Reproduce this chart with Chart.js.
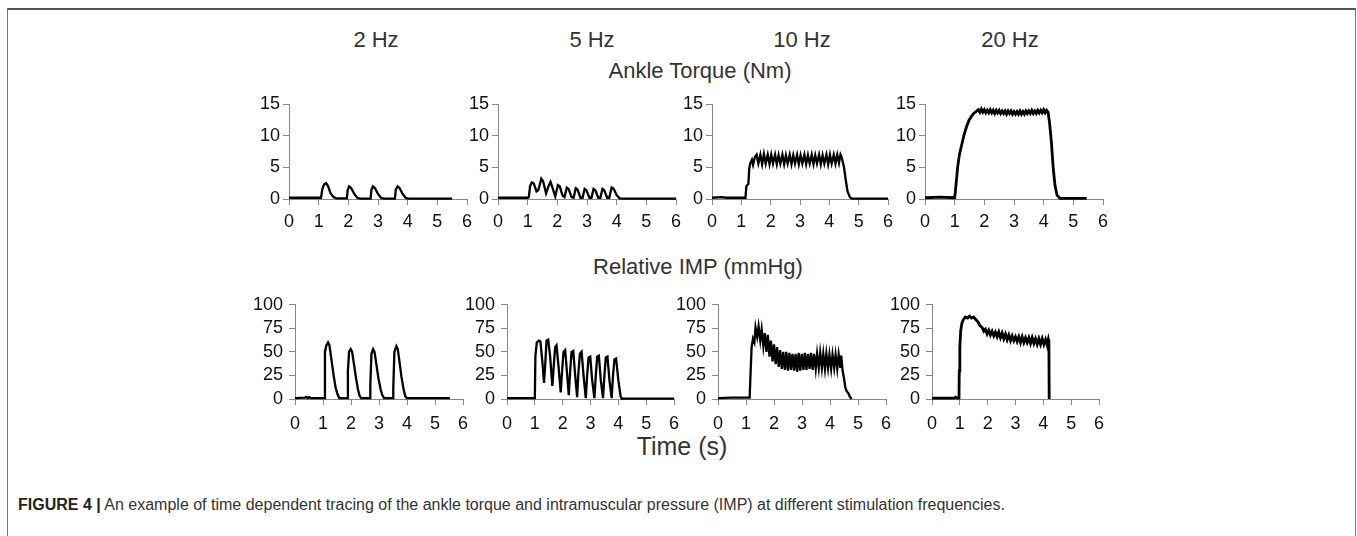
<!DOCTYPE html>
<html>
<head>
<meta charset="utf-8">
<script src="https://cdn.jsdelivr.net/npm/chart.js@4.4.1/dist/chart.umd.min.js"></script>
<style>
  html, body { margin: 0; padding: 0; background: #fff; }
  body { width: 1357px; height: 536px; position: relative; overflow: hidden; font-family: "Liberation Sans", Arial, sans-serif; }
  .frame { position: absolute; left: 7px; top: 8px; width: 1347px; height: 600px; border-top: 2px solid #555; border-left: 1px solid #777; border-right: 1px solid #777; }
  .lbl { position: absolute; color: #333; white-space: nowrap; transform: translateX(-50%); }
  canvas { position: absolute; }
  .caption { position: absolute; left: 18px; top: 496px; font-size: 16px; color: #333; white-space: nowrap; }
  .caption b { color: #222; }
</style>
</head>
<body>
<div class="frame"></div>

<div class="lbl" style="left:376px; top:27px; font-size:22px;">2 Hz</div>
<div class="lbl" style="left:592px; top:27px; font-size:22px;">5 Hz</div>
<div class="lbl" style="left:802px; top:27px; font-size:22px;">10 Hz</div>
<div class="lbl" style="left:1010px; top:27px; font-size:22px;">20 Hz</div>
<div class="lbl" style="left:700px; top:58px; font-size:22px;">Ankle Torque (Nm)</div>
<div class="lbl" style="left:698px; top:254px; font-size:22px;">Relative IMP (mmHg)</div>
<div class="lbl" style="left:682px; top:432px; font-size:25px;">Time (s)</div>

<canvas id="t2"></canvas><canvas id="t5"></canvas><canvas id="t10"></canvas><canvas id="t20"></canvas>
<canvas id="i2"></canvas><canvas id="i5"></canvas><canvas id="i10"></canvas><canvas id="i20"></canvas>

<div class="caption"><b>FIGURE 4 |</b> An example of time dependent tracing of the ankle torque and intramuscular pressure (IMP) at different stimulation frequencies.</div>

<script>
// ---- data: [time (s), value] ----
const timeTicks = [0, 1, 2, 3, 4, 5, 6];
const torqueTicks = [0, 5, 10, 15];
const impTicks = [0, 25, 50, 75, 100];

const torque2Hz = [[0,0.2],[1.08,0.2],[1.12,1.5],[1.18,2.3],[1.25,2.5],[1.32,2.0],[1.4,0.9],[1.5,0.3],[1.6,0.1],[1.95,0.1],[1.98,1.5],[2.03,2.0],[2.1,1.7],[2.2,0.8],[2.3,0.2],[2.4,0.05],[2.75,0.05],[2.78,1.5],[2.83,2.0],[2.9,1.7],[3.0,0.8],[3.1,0.2],[3.2,0.05],[3.57,0.05],[3.6,1.5],[3.66,2.0],[3.73,1.7],[3.83,0.8],[3.93,0.2],[4.02,0.05],[5.5,0.05]];

const torque5Hz = [[0,0.2],[1.0,0.2],[1.04,0.3],[1.08,2.0],[1.14,2.6],[1.2,2.5],[1.3,1.2],[1.36,1.4],[1.46,3.2],[1.52,2.8],[1.62,0.9],[1.7,2.0],[1.77,2.7],[1.85,1.6],[1.93,0.4],[2.02,2.2],[2.08,2.0],[2.18,0.5],[2.24,0.3],[2.32,1.8],[2.38,1.6],[2.48,0.3],[2.55,0.2],[2.62,1.7],[2.68,1.5],[2.78,0.2],[2.85,0.2],[2.92,1.6],[2.98,1.4],[3.08,0.2],[3.15,0.2],[3.22,1.6],[3.28,1.4],[3.38,0.2],[3.45,0.2],[3.52,1.6],[3.58,1.4],[3.68,0.2],[3.75,0.2],[3.83,1.8],[3.9,1.6],[4.0,0.6],[4.1,0.1],[4.2,0.05],[6.0,0.05]];

const torque10Hz = [[0,0.2],[0.3,0.3],[0.5,0.2],[1.14,0.2],[1.17,2.0],[1.24,2.4],[1.27,4.8],[1.3,5.6],[1.36,6.2],[1.4,5.4],[1.46,6.6],
  [1.52,7.0],[1.58,5.6],[1.65,7.0],[1.71,5.5],[1.77,7.1],[1.83,5.6],[1.9,7.0],[1.96,5.5],[2.02,7.0],[2.08,5.6],[2.15,7.0],[2.21,5.5],
  [2.27,6.9],[2.33,5.6],[2.4,7.0],[2.46,5.5],[2.52,6.9],[2.58,5.6],[2.65,7.0],[2.71,5.5],[2.77,6.9],[2.83,5.6],[2.9,7.0],[2.96,5.5],
  [3.02,6.9],[3.08,5.6],[3.15,7.0],[3.21,5.5],[3.27,6.9],[3.33,5.6],[3.4,7.0],[3.46,5.5],[3.52,6.9],[3.58,5.6],[3.65,7.0],[3.71,5.5],
  [3.77,6.9],[3.83,5.6],[3.9,7.0],[3.96,5.5],[4.02,7.0],[4.08,5.6],[4.15,7.0],[4.21,5.6],[4.27,7.0],[4.33,5.7],[4.38,7.0],
  [4.42,6.6],[4.5,5.0],[4.56,3.0],[4.62,1.2],[4.7,0.3],[4.76,0.05],[6.0,0.05]];

const torque20Hz = [[0,0.2],[0.5,0.3],[1.0,0.2],[1.02,1.0],[1.06,3.0],[1.1,5.0],[1.16,7.0],[1.24,8.6],[1.32,10.2],[1.4,11.4],[1.48,12.4],[1.56,13.0],[1.64,13.5],[1.72,13.8],[1.8,14.1],[1.85,13.7],[1.9,14.2],
  [1.95,13.7],[2.0,14.1],[2.05,13.6],[2.1,14.0],[2.15,13.6],[2.2,14.1],[2.25,13.6],[2.3,14.0],[2.35,13.5],[2.4,14.0],[2.45,13.6],[2.5,14.0],
  [2.55,13.5],[2.6,13.9],[2.65,13.5],[2.7,13.9],[2.75,13.4],[2.8,13.9],[2.85,13.5],[2.9,13.9],[2.95,13.4],[3.0,13.8],[3.05,13.4],[3.1,13.8],
  [3.15,13.4],[3.2,13.9],[3.25,13.4],[3.3,13.8],[3.35,13.4],[3.4,13.9],[3.45,13.5],[3.5,13.9],[3.55,13.5],[3.6,14.0],[3.65,13.5],[3.7,13.9],
  [3.75,13.5],[3.8,14.0],[3.85,13.6],[3.9,14.0],[3.95,13.6],[4.0,14.1],[4.05,13.6],[4.1,14.0],[4.15,13.7],
  [4.2,12.0],[4.26,9.0],[4.32,5.0],[4.38,2.2],[4.45,0.6],[4.55,0.1],[5.45,0.1]];

const imp2Hz = [[0,1],[0.35,1.5],[0.4,2],[0.45,1],[0.5,2],[0.55,1],[1.05,1],[1.07,50],[1.12,57],[1.18,60],[1.23,57],[1.3,42],[1.38,25],[1.45,12],[1.52,5],[1.58,1],[1.88,1],[1.89,30],[1.93,50],[1.99,53],[2.04,50],[2.1,38],[2.18,22],[2.25,10],[2.3,4],[2.36,1],[2.68,1],[2.69,15],[2.73,48],[2.79,53],[2.84,50],[2.9,38],[2.98,22],[3.06,10],[3.12,4],[3.18,1],[3.5,1],[3.51,12],[3.55,50],[3.62,56],[3.67,53],[3.73,40],[3.8,24],[3.88,10],[3.94,3],[3.99,1],[5.53,1]];

const imp5Hz = [[0,1],[1.0,1],[1.02,45],[1.07,60],[1.14,62],[1.2,61],[1.27,40],[1.33,17],[1.38,40],[1.42,62],[1.48,63],[1.55,45],[1.63,14],[1.68,35],[1.73,55],[1.78,57],[1.85,35],[1.93,7],[1.98,30],[2.03,50],[2.09,52],[2.15,30],[2.22,4],[2.27,30],[2.32,50],[2.38,51],[2.45,25],[2.52,2],[2.57,30],[2.62,48],[2.68,50],[2.75,25],[2.83,1],[2.88,25],[2.93,44],[2.99,45],[3.06,20],[3.14,1],[3.19,25],[3.24,45],[3.3,46],[3.37,20],[3.45,1],[3.5,25],[3.55,44],[3.61,45],[3.68,20],[3.76,1],[3.81,25],[3.86,42],[3.92,43],[4.0,20],[4.08,3],[4.12,0.5],[6.0,0.5]];

const imp10Hz = [[0,1],[0.5,1.5],[1.13,1.5],[1.16,25],[1.2,55],[1.25,64],[1.3,60],[1.34,76],[1.4,66],[1.45,77],[1.51,62],[1.56,74],[1.62,56],[1.67,70],[1.73,50],[1.78,68],[1.84,45],[1.89,62],[1.95,40],[2.0,58],[2.06,37],[2.11,55],[2.17,34],[2.22,52],[2.28,32],[2.33,50],[2.39,31],[2.44,50],[2.5,30],[2.55,49],[2.61,31],[2.66,48],[2.72,30],[2.77,48],[2.83,29],[2.88,49],[2.94,30],[2.99,48],[3.05,31],[3.1,49],[3.16,31],[3.21,48],[3.27,32],[3.32,49],[3.38,31],[3.43,48],[3.49,32],[3.54,48],[3.6,33],[3.65,49],[3.71,33],[3.76,48],[3.82,32],[3.87,48],[3.93,33],[3.98,47],[4.04,32],[4.09,47],[4.15,33],[4.2,47],[4.26,32],[4.31,47],[4.37,33],[4.4,46],[4.45,30],[4.5,22],[4.55,12],[4.6,8],[4.66,6],[4.7,3],[4.77,0]];

const imp20Hz = [[0,1],[0.8,1],[0.85,2],[0.9,1],[0.97,1],[0.98,30],[1.0,55],[1.03,72],[1.07,80],[1.12,84],[1.2,87],[1.28,86],[1.35,88],[1.42,86],[1.5,87],[1.58,84],[1.65,82],[1.72,78],[1.8,76],[1.86,72],[1.92,74],[1.98,69],[2.04,73],[2.1,68],[2.16,72],[2.22,67],[2.28,71],[2.34,66],[2.4,71],[2.46,65],[2.52,70],[2.58,64],[2.64,69],[2.7,63],[2.76,68],[2.82,62],[2.88,67],[2.94,62],[3.0,66],[3.06,61],[3.12,66],[3.18,60],[3.24,66],[3.3,60],[3.36,65],[3.42,60],[3.48,65],[3.54,59],[3.6,65],[3.66,59],[3.72,64],[3.78,58],[3.84,64],[3.9,58],[3.96,64],[4.02,58],[4.08,63],[4.14,57],[4.18,63],[4.2,60],[4.21,0]];

// ---- panel placement: plot area in page pixels ----
const TOP_ROW = { top: 104, bottom: 199 };
const BOT_ROW = { top: 302, bottom: 399 };
const Y_W = 60, X_H = 36, PAD_T = 14, PAD_R = 14;

function makePanel(id, series, row, left, right, yTicks, xPad, yPad, lw) {
    const cv = document.getElementById(id);
    const w = Y_W + (right - left) + PAD_R;
    const h = PAD_T + (row.bottom - row.top) + X_H;
    cv.width = w; cv.height = h;
    cv.style.left = (left - Y_W) + 'px';
    cv.style.top = (row.top - PAD_T) + 'px';

    const tickFont = { family: "'Liberation Sans', Arial, sans-serif", size: 18 };
    new Chart(cv, {
        type: 'line',
        data: {
            datasets: [{
                data: series.map(p => ({ x: p[0], y: p[1] })),
                borderColor: '#000', borderWidth: lw,
                pointRadius: 0, tension: 0, fill: false, clip: false
            }]
        },
        options: {
            responsive: false, animation: false, devicePixelRatio: 1, events: [],
            layout: { padding: { top: PAD_T, right: PAD_R, left: 0, bottom: 0 } },
            plugins: { legend: { display: false }, tooltip: { enabled: false } },
            scales: {
                x: {
                    type: 'linear', min: 0, max: 6,
                    afterFit: s => { s.height = X_H; },
                    afterBuildTicks: s => { s.ticks = timeTicks.map(v => ({ value: v })); },
                    grid: { drawOnChartArea: false, drawTicks: true, tickLength: 6, color: '#888' },
                    border: { color: '#888', width: 1 },
                    ticks: { font: tickFont, color: '#111', padding: xPad, maxRotation: 0, autoSkip: false }
                },
                y: {
                    min: 0, max: yTicks[yTicks.length - 1],
                    afterFit: s => { s.width = Y_W; },
                    afterBuildTicks: s => { s.ticks = yTicks.map(v => ({ value: v })); },
                    grid: { drawOnChartArea: false, drawTicks: true, tickLength: 6, color: '#888' },
                    border: { color: '#888', width: 1 },
                    ticks: { font: tickFont, color: '#111', padding: yPad, autoSkip: false }
                }
            }
        }
    });
}

makePanel('t2',  torque2Hz,  TOP_ROW, 289, 467, torqueTicks, 6, 3, 2.3);
makePanel('t5',  torque5Hz,  TOP_ROW, 498, 676, torqueTicks, 6, 3, 2.3);
makePanel('t10', torque10Hz, TOP_ROW, 712, 888, torqueTicks, 6, 3, 2.3);
makePanel('t20', torque20Hz, TOP_ROW, 925, 1103, torqueTicks, 6, 3, 2.8);

makePanel('i2',  imp2Hz,  BOT_ROW, 295, 463, impTicks, 8, 6, 2.3);
makePanel('i5',  imp5Hz,  BOT_ROW, 507, 674, impTicks, 8, 6, 2.3);
makePanel('i10', imp10Hz, BOT_ROW, 718, 886, impTicks, 8, 6, 2.3);
makePanel('i20', imp20Hz, BOT_ROW, 932, 1099, impTicks, 8, 6, 2.8);
</script>
</body>
</html>
